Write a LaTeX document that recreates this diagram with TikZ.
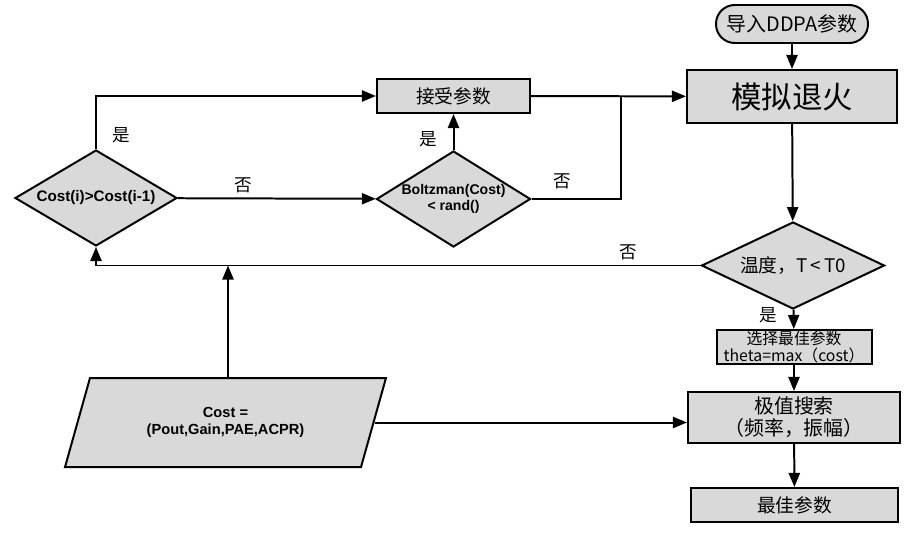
\documentclass[tikz,border=0pt]{standalone}
\usepackage{fontspec}
\setmainfont{Liberation Sans}
\newfontfamily\cjk{Noto Sans CJK SC}
\usetikzlibrary{shapes.geometric, arrows.meta, positioning}
\definecolor{boxgray}{RGB}{217,217,217}
\tikzset{
    box/.style={draw=black, fill=boxgray, line width=1.7pt, align=center},
    decision/.style={diamond, draw=black, fill=boxgray, line width=1.7pt, inner sep=0pt, align=center},
    data/.style={trapezium, trapezium left angle=68.5, trapezium right angle=111.5, trapezium stretches=true,
        draw=black, fill=boxgray, line width=1.7pt, align=center},
    arr/.style={line width=1.7pt, -{Triangle[length=12pt,width=9.5pt]}},
    line/.style={line width=1.7pt},
    lbl/.style={font=\cjk\fontsize{15}{16}\selectfont, inner sep=0pt}
}

\begin{document}
\begin{tikzpicture}[x=0.03cm, y=-0.03cm]
    \useasboundingbox (0,0) rectangle (909,534);

    % right column
    \node[box, rounded corners=16pt, minimum width=4.56cm, minimum height=1.14cm,
        font=\cjk\fontsize{17}{20}\selectfont] (start) at (792,24) {导入DDPA参数};
    \node[box, minimum width=6.3cm, minimum height=1.59cm,
        font=\cjk\fontsize{26}{30}\selectfont] (anneal) at (792,96.5) {模拟退火};
    \node[decision, aspect=2.1, minimum width=5.49cm, minimum height=2.61cm,
        font=\cjk\fontsize{16}{18}\selectfont] (temp) at (793,265.5) {温度，T\,<\,T0};
    \node[box, inner sep=0pt, minimum width=4.65cm, minimum height=1.02cm,
        font=\cjk\fontsize{13.5}{14.5}\selectfont] (pick) at (794,347) {选择最佳参数\\theta=max（cost）};
    \node[box, inner sep=0pt, minimum width=6.36cm, minimum height=1.53cm,
        font=\cjk\fontsize{17}{19}\selectfont] (search) at (794,417.5) {极值搜索\\（频率，振幅）};
    \node[box, minimum width=6.21cm, minimum height=1.02cm,
        font=\cjk\fontsize{16}{19}\selectfont] (best) at (794.5,505) {最佳参数};

    % left part
    \node[box, minimum width=4.59cm, minimum height=1.02cm,
        font=\cjk\fontsize{16}{19}\selectfont] (accept) at (453.5,96) {接受参数};
    \node[decision, aspect=1.72, minimum width=4.86cm, minimum height=2.88cm,
        font=\bfseries\fontsize{13}{15}\selectfont] (cmp) at (96,198) {Cost(i)>Cost(i-1)};
    \node[decision, aspect=1.6, minimum width=4.62cm, minimum height=2.88cm,
        font=\bfseries\fontsize{12}{14}\selectfont] (boltz) at (453.5,199) {Boltzman(Cost)\\< rand()};
    \node[data, minimum width=9.63cm, minimum height=2.67cm,
        font=\bfseries\fontsize{12.5}{15}\selectfont] (cost) at (225.5,422.5) {Cost =\\(Pout,Gain,PAE,ACPR)};

    \coordinate (join) at (621,96);
    \coordinate (ret) at (228,265.5);

    % connectors
    \draw[arr] (start) -- (anneal);
    \draw[arr] (anneal) -- (temp);
    \draw[arr] (temp) -- node[lbl, left=13pt, pos=0.3] {是} (pick);
    \draw[arr] (pick) -- (search);
    \draw[arr] (search) -- (best);
    \draw[arr] (cost.east) -- (cost.east -| search.west);
    \draw[arr] (temp.west) -| node[lbl, above=4pt, pos=0.06] {否} (cmp.south);
    \draw[arr] (cost.north -| ret) -- (ret);
    \draw[arr] (cmp) -- node[lbl, above=4pt, pos=0.33] {否} (boltz);
    \draw[arr] (cmp.north) |- node[lbl, right=13pt, pos=0.13] {是} (accept.west);
    \draw[arr] (boltz.north) -- node[lbl, left=13pt, pos=0.3] {是} (accept.south);
    \draw[arr] (accept) -- (anneal);
    \draw[line] (boltz.east) -| node[lbl, above=8pt, pos=0.17] {否} (join);
\end{tikzpicture}
\end{document}
